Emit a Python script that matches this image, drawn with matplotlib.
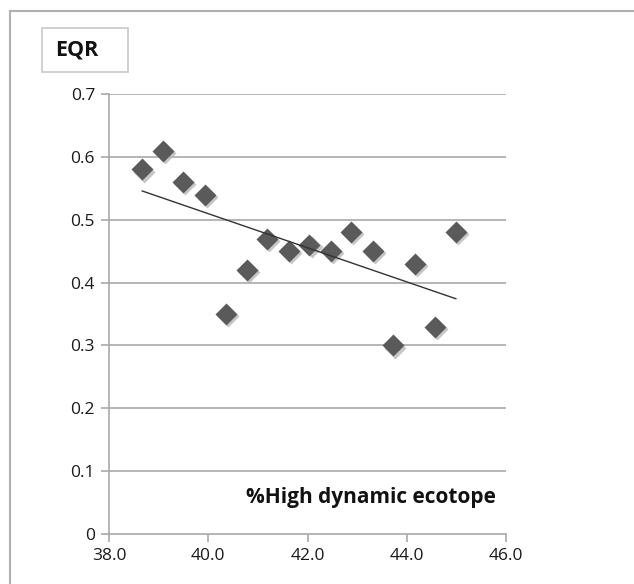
import numpy as np
import matplotlib
matplotlib.use('Agg')
import matplotlib.pyplot as plt
import matplotlib.transforms as mtransforms
from matplotlib.patches import Rectangle
from matplotlib.lines import Line2D

# EQR versus % high dynamic ecotope
high_dyn = [38.67, 39.08, 39.49, 39.94, 40.35, 40.78, 41.19, 41.63,
            42.04, 42.47, 42.87, 43.31, 43.73, 44.16, 44.57, 44.99]
eqr = [0.58, 0.61, 0.56, 0.54, 0.35, 0.42, 0.47, 0.45,
       0.46, 0.45, 0.48, 0.45, 0.30, 0.43, 0.33, 0.48]
x_ticks = [38.0, 40.0, 42.0, 44.0, 46.0]
y_ticks = [0, 0.1, 0.2, 0.3, 0.4, 0.5, 0.6, 0.7]

plt.rcParams['font.family'] = ['Open Sans', 'DejaVu Sans']

fig = plt.figure(figsize=(6.34, 5.84), dpi=100)
ax = fig.add_axes([109/634, 1 - 534/584, 397/634, 440/584])

grey = '#a9a9a9'
for y in y_ticks[1:]:
    ax.axhline(y, color=grey, lw=1.2, zorder=1)

# marker shadow
shadow = mtransforms.offset_copy(ax.transData, fig=fig, x=1.5, y=-1.5, units='points')
ax.plot(high_dyn, eqr, 'D', ms=11.5, color='#b8b8b8', mec='none', alpha=0.8,
        transform=shadow, zorder=2)
ax.plot(high_dyn, eqr, 'D', ms=11.5, color='#5a5a5a', mec='none', zorder=3)

# linear trendline
slope, icept = np.polyfit(high_dyn, eqr, 1)
xs = np.array([min(high_dyn), max(high_dyn)])
ax.plot(xs, slope*xs + icept, color='#333333', lw=1.0, zorder=4)

ax.set_xlim(38, 46)
ax.set_ylim(0, 0.7)
ax.set_xticks(x_ticks)
ax.set_xticklabels(['%.1f' % v for v in x_ticks])
ax.set_yticks(y_ticks)
ax.set_yticklabels(['0'] + ['%.1f' % v for v in y_ticks[1:]])
ax.tick_params(direction='out', length=6, width=1.2, color=grey, labelsize=12.5,
               labelcolor='#1a1a1a', pad=4)
for s in ['top', 'right']:
    ax.spines[s].set_visible(False)
for s in ['left', 'bottom']:
    ax.spines[s].set_color(grey)
    ax.spines[s].set_linewidth(1.2)

ax.text(0.345, 0.082, '%High dynamic ecotope', transform=ax.transAxes,
        fontsize=15, fontweight='bold', color='#111111', va='center')

# EQR label box
fig.add_artist(Rectangle((42/634, 1 - 72/584), 86/634, 44/584, transform=fig.transFigure,
                         fill=False, edgecolor='#c8c8c8', lw=1.2))
fig.text(77/634, 1 - 50/584, 'EQR', fontsize=15.5, fontweight='bold', color='#111111',
         ha='center', va='center')

# outer frame (right and bottom edges are cropped off)
fig.add_artist(Line2D([9.5/634, 1], [1 - 11/584, 1 - 11/584], transform=fig.transFigure,
                      color='#b0b0b0', lw=1.5))
fig.add_artist(Line2D([9.5/634, 9.5/634], [0, 1 - 11/584], transform=fig.transFigure,
                      color='#b0b0b0', lw=1.5))

fig.savefig('out.png', dpi=100)
